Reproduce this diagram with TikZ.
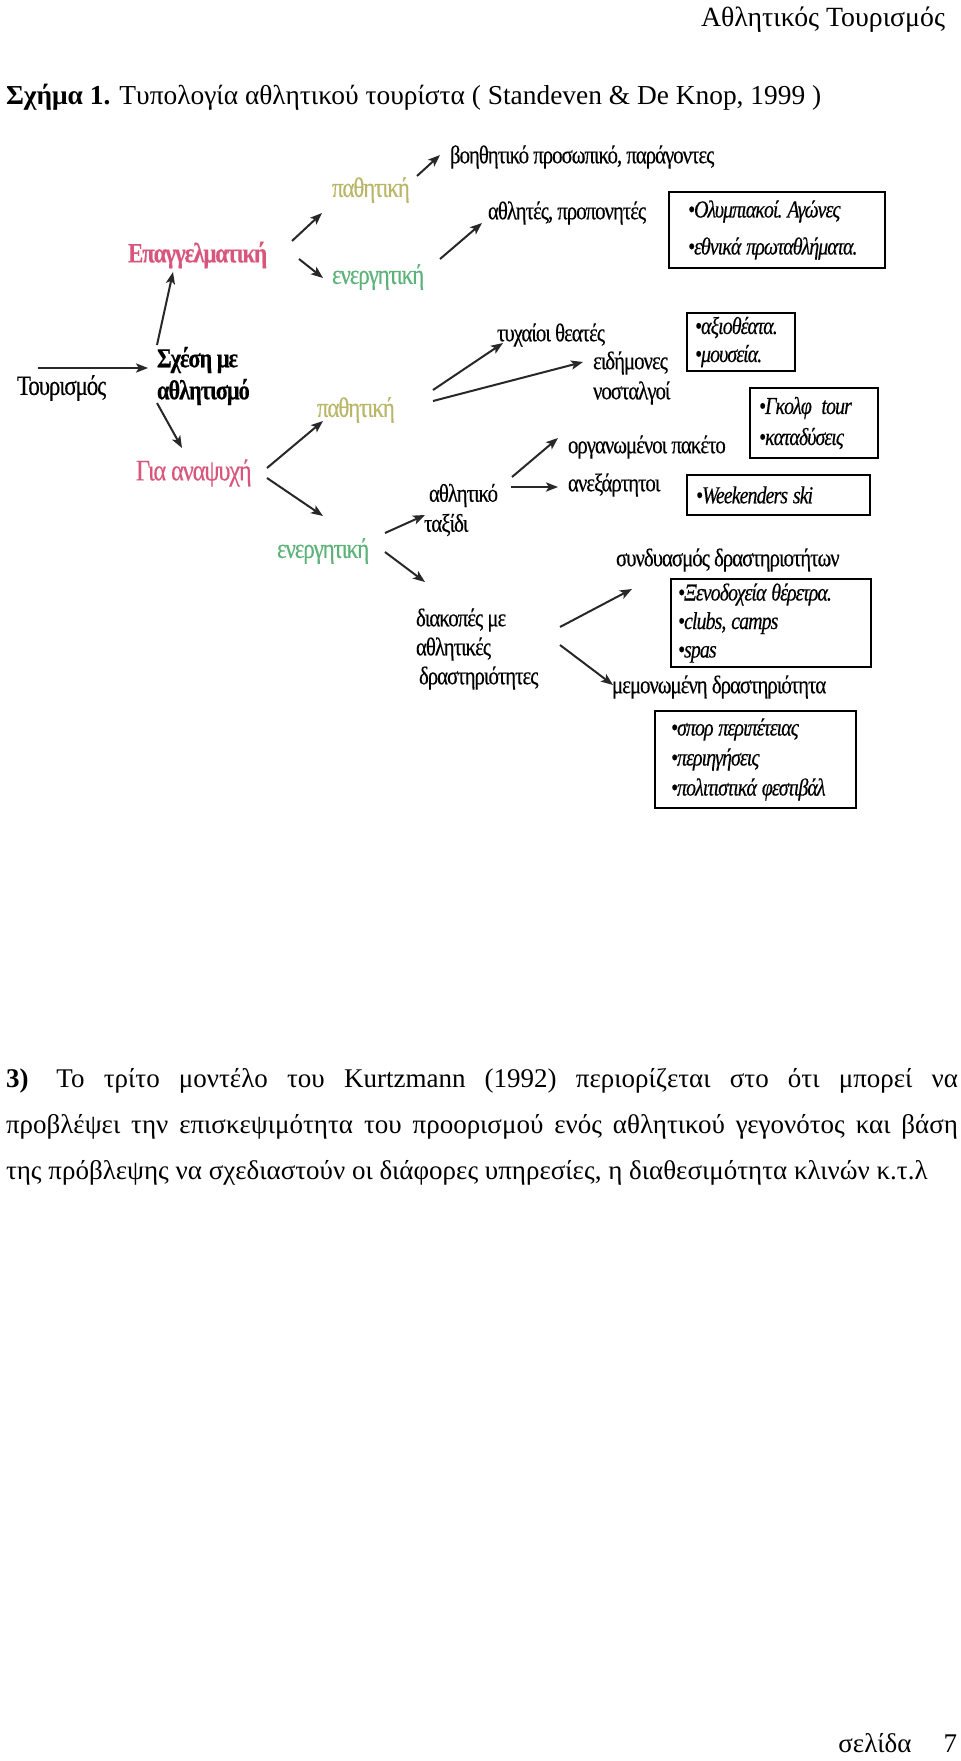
\documentclass[tikz,border=0pt]{standalone}
\usepackage{fontspec}
\setmainfont{Liberation Serif}
\newfontfamily\diagfont[FakeStretch=0.82,LetterSpace=-4,FakeBold=0.3]{Liberation Serif}
\usetikzlibrary{arrows.meta}
\definecolor{profpink}{RGB}{216,86,124}
\definecolor{passolive}{RGB}{186,182,104}
\definecolor{actgreen}{RGB}{92,178,120}
\definecolor{linkgrey}{RGB}{40,40,40}

\begin{document}
\begin{tikzpicture}[x=0.5pt,y=-0.5pt,>={Stealth[length=6pt,width=4.6pt,inset=1.4pt]},
  every node/.style={inner sep=0pt,outer sep=0pt},
  lbl/.style={anchor=west,align=left,font=\diagfont\fontsize{12.7}{15}\selectfont},
  bigl/.style={lbl,font=\diagfont\fontsize{#1}{16}\selectfont},
  strong/.style={lbl,font=\diagfont\bfseries\fontsize{13.7}{16}\selectfont},
  listbox/.style={draw,line width=0.6pt,anchor=north west,align=left,
    execute at begin node={\spaceskip=2.4pt\relax\xspaceskip=4.8pt\relax}},
  listfont/.style={font=\diagfont\itshape\fontsize{12.2}{#1}\selectfont},
  textfont/.style={font=\fontsize{13.5}{23}\selectfont},
  link/.style={->,color=linkgrey,line width=1pt}]
  \useasboundingbox[fill=white] (0,0) rectangle (960,1761);

  \node[anchor=east,font=\fontsize{13.9}{16}\selectfont] (runhead) at (945,20) {Αθλητικός Τουρισμός};
  \node[anchor=west,font=\fontsize{13.7}{16}\selectfont] (caption) at (6,97) {\textbf{Σχήμα 1.} Τυπολογία αθλητικού τουρίστα ( Standeven \& De Knop, 1999 )};

  \node[bigl=14] (tour) at (17,388) {Τουρισμός};
  \node[strong] (relation) at (157,376) {Σχέση με\\αθλητισμό};
  \node[lbl,font=\diagfont\bfseries\fontsize{14}{16}\selectfont,text=profpink] (prof) at (128,255) {Επαγγελματική};
  \node[bigl=14.9,text=profpink] (leisure) at (136,473) {Για αναψυχή};
  \node[bigl=14,text=passolive] (pasA) at (332,190) {παθητική};
  \node[bigl=14,text=actgreen] (actA) at (332,277) {ενεργητική};
  \node[lbl] (staff) at (450,157) {βοηθητικό προσωπικό, παράγοντες};
  \node[lbl] (athl) at (488,213) {αθλητές, προπονητές};
  \node[bigl=14,text=passolive] (pasB) at (317,410) {παθητική};
  \node[bigl=14,text=actgreen] (actB) at (277,551) {ενεργητική};
  \node[lbl] (casual) at (497,335) {τυχαίοι θεατές};
  \node[lbl] (experts) at (593,363) {ειδήμονες};
  \node[lbl] (nostal) at (593,393) {νοσταλγοί};
  \node[lbl] (pkg) at (568,447) {οργανωμένοι πακέτο};
  \node[lbl] (indep) at (568,485) {ανεξάρτητοι};
  \node[lbl] (trip) at (424,510) {\hspace{2.5pt}αθλητικό\\ταξίδι};
  \node[lbl,font=\diagfont\fontsize{12.7}{14.5}\selectfont] (holiday) at (416,649) {διακοπές με\\αθλητικές\\\hspace{1.5pt}δραστηριότητες};
  \node[lbl] (combo) at (616,560) {συνδυασμός δραστηριοτήτων};
  \node[lbl] (single) at (612,687) {μεμονωμένη δραστηριότητα};

  \node[listbox,listfont=18.5,minimum height=38pt,text width=89pt,inner xsep=9.5pt] (olympic) at (669,192)
    {•Ολυμπιακοί.~Αγώνες\\•εθνικά~πρωταθλήματα.};
  \node[listbox,listfont=14,minimum height=29pt,text width=46pt,inner xsep=4pt] (sights) at (687,313)
    {•αξιοθέατα.\\•μουσεία.};
  \node[listbox,listfont=15.5,minimum height=35pt,text width=55pt,inner xsep=4.5pt] (golf) at (750,388)
    {•Γκολφ\ \ tour\\•καταδύσεις};
  \node[listbox,listfont=15,minimum height=20pt,text width=82.5pt,inner xsep=4.5pt] (ski) at (687,475)
    {•Weekenders~ski};
  \node[listbox,listfont=14.25,minimum height=44pt,text width=93pt,inner xsep=3.5pt] (resorts) at (671,579)
    {•Ξενοδοχεία~θέρετρα.\\•clubs,~camps\\•spas};
  \node[listbox,listfont=15,minimum height=48.5pt,text width=84.5pt,inner xsep=8pt] (adventure) at (655,711)
    {•σπορ~περιπέτειας\\•περιηγήσεις\\•πολιτιστικά~φεστιβάλ};

  \path[link]
    ([shift={(21,-20)}]tour.west) edge ([shift={(-9,-8)}]relation.west)
    ([shift={(0,-31)}]relation.west) edge ([shift={(45,17)}]prof.west)
    ([shift={(0,27)}]relation.west) edge ([shift={(46,-25)}]leisure.west)
    ([shift={(164,-14)}]prof.west) edge ([shift={(-10,23)}]pasA.west)
    ([shift={(171,4)}]prof.west) edge ([shift={(-9,1)}]actA.west)
    ([shift={(85,-14)}]pasA.west) edge ([shift={(-10,-2)}]staff.west)
    ([shift={(108,-18)}]actA.west) edge ([shift={(-6,10)}]athl.west)
    ([shift={(131,-5)}]leisure.west) edge ([shift={(6,11)}]pasB.west)
    ([shift={(131,5)}]leisure.west) edge ([shift={(46,-35)}]actB.west)
    ([shift={(116,-20)}]pasB.west) edge ([shift={(6,8)}]casual.west)
    ([shift={(116,-9)}]pasB.west) edge ([shift={(-10,-1)}]experts.west)
    ([shift={(108,-18)}]actB.west) edge ([shift={(1,5)}]trip.west)
    ([shift={(108,1)}]actB.west) edge ([shift={(9,-67)}]holiday.west)
    ([shift={(88,-33)}]trip.west) edge ([shift={(-10,-9)}]pkg.west)
    ([shift={(87,-23)}]trip.west) edge ([shift={(-10,2)}]indep.west)
    ([shift={(144,-22)}]holiday.west) edge ([shift={(16,29)}]combo.west)
    ([shift={(144,-4)}]holiday.west) edge ([shift={(1,-2)}]single.west);

  \node[anchor=north west,text width=476pt,align=justify,textfont] (para) at (6,1068)
    {\hyphenpenalty=10000\textbf{3)}\hspace{14pt}Το τρίτο μοντέλο του Kurtzmann (1992) περιορίζεται στο ότι μπορεί να\linebreak
     προβλέψει την επισκεψιμότητα του προορισμού ενός αθλητικού γεγονότος και βάση\linebreak
     της πρόβλεψης να σχεδιαστούν οι διάφορες υπηρεσίες, η διαθεσιμότητα κλινών κ.τ.λ};
  \node[anchor=east,textfont] (folio) at (957,1743) {σελίδα\hspace{16pt}7};
\end{tikzpicture}
\end{document}
